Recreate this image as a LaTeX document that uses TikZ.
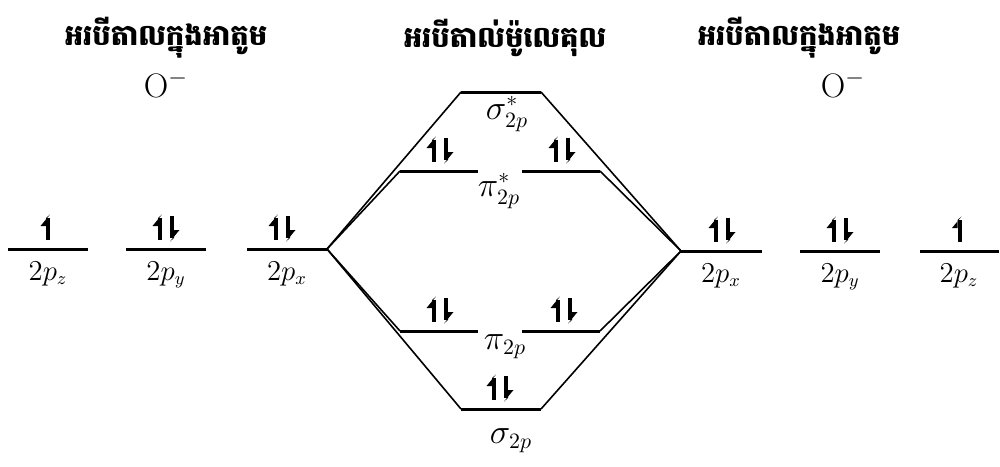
\documentclass[tikz,border=0pt]{standalone}
\usepackage{fontspec}
\newfontfamily\khmer[Script=Khmer]{Battambang}
\begin{document}
\begin{tikzpicture}[x=0.5pt,y=-0.5pt,
  level/.style={line width=1.5pt},
  conn/.style={line width=0.8pt},
  title/.style={font=\khmer\bfseries\fontsize{14.5}{18}\selectfont, inner sep=0pt},
  lab/.style={font=\fontsize{13.5}{16}\selectfont, anchor=base, inner sep=0pt},
  molab/.style={lab, font=\fontsize{16}{19}\selectfont},
  ion/.style={lab, font=\fontsize{17}{20}\selectfont},
  eup/.pic={\fill (-2,-10) rectangle (2,12);
            \fill (2,-13.5) -- (-7.5,-2) -- (-2,-2) -- (-2,-10) -- cycle;},
  edn/.pic={\fill (-2,-12) rectangle (2,10);
            \fill (-2,13.5) -- (7.5,2) -- (2,2) -- (2,10) -- cycle;}]
\useasboundingbox (0,0) rectangle (1000,466);

% titles
\node[title] (t1) at (166,38) {អរបីតាលក្នុងអាតូម};
\node[title] (t2) at (505,38) {អរបីតាល់ម៉ូលេគុល};
\node[title] (t3) at (799,38) {អរបីតាលក្នុងអាតូម};

% ions
\node[ion] (ionL) at (166,97) {O$^-$};
\node[ion] (ionR) at (843,97) {O$^-$};

% left atomic levels
\coordinate (Lz1) at (8,249);   \coordinate (Lz2) at (88,249);
\coordinate (Ly1) at (126,249); \coordinate (Ly2) at (206,249);
\coordinate (Lx1) at (247,249); \coordinate (Lx2) at (327,249);
% right atomic levels
\coordinate (Rx1) at (681,251); \coordinate (Rx2) at (762,251);
\coordinate (Ry1) at (800,251); \coordinate (Ry2) at (880,251);
\coordinate (Rz1) at (920,251); \coordinate (Rz2) at (999,251);
% molecular levels
\coordinate (ss1) at (461,92);  \coordinate (ss2) at (541,92);
\coordinate (psL1) at (400,171); \coordinate (psL2) at (478,171);
\coordinate (psR1) at (522,171); \coordinate (psR2) at (600,171);
\coordinate (pL1) at (400,331); \coordinate (pL2) at (478,331);
\coordinate (pR1) at (522,331); \coordinate (pR2) at (600,331);
\coordinate (s1) at (461,409);  \coordinate (s2) at (541,409);

\foreach \a/\b in {Lz1/Lz2,Ly1/Ly2,Lx1/Lx2,Rx1/Rx2,Ry1/Ry2,Rz1/Rz2,
                   ss1/ss2,psL1/psL2,psR1/psR2,pL1/pL2,pR1/pR2,s1/s2}
  \draw[level] (\a) -- (\b);

% connectors
\draw[conn] (Lx2) -- (ss1);
\draw[conn] (Lx2) -- (psL1);
\draw[conn] (Lx2) -- (pL1);
\draw[conn] (Lx2) -- (s1);
\draw[conn] (Rx1) -- (ss2);
\draw[conn] (Rx1) -- (psR2);
\draw[conn] (Rx1) -- (pR2);
\draw[conn] (Rx1) -- (s2);

% electrons
\pic at (48,228) {eup};
\pic at (160,228) {eup}; \pic at (172,228) {edn};
\pic at (276,228) {eup};   \pic at (288,228) {edn};
\pic at (716,230) {eup};   \pic at (728,230) {edn};
\pic at (834,230) {eup}; \pic at (846,230) {edn};
\pic at (959.5,230) {eup};
\pic at (434,150) {eup}; \pic at (446,150) {edn};
\pic at (556,150) {eup}; \pic at (568,150) {edn};
\pic at (434,310) {eup}; \pic at (446,310) {edn};
\pic at (558,310) {eup}; \pic at (570,310) {edn};
\pic at (494,388) {eup}; \pic at (506,388) {edn};

% atomic orbital labels
\node[lab] (l1) at (48,280) {$2p_z$};
\node[lab] (l2) at (166,280) {$2p_y$};
\node[lab] (l3) at (287,280) {$2p_x$};
\node[lab] (r1) at (721,282) {$2p_x$};
\node[lab] (r2) at (840,282) {$2p_y$};
\node[lab] (r3) at (959,282) {$2p_z$};

% molecular orbital labels
\node[molab] (m1) at (507,119) {$\sigma^*_{2p}$};
\node[molab] (m2) at (499,196) {$\pi^*_{2p}$};
\node[molab] (m3) at (505,349) {$\pi_{2p}$};
\node[molab] (m4) at (511,443) {$\sigma_{2p}$};
\end{tikzpicture}
\end{document}
